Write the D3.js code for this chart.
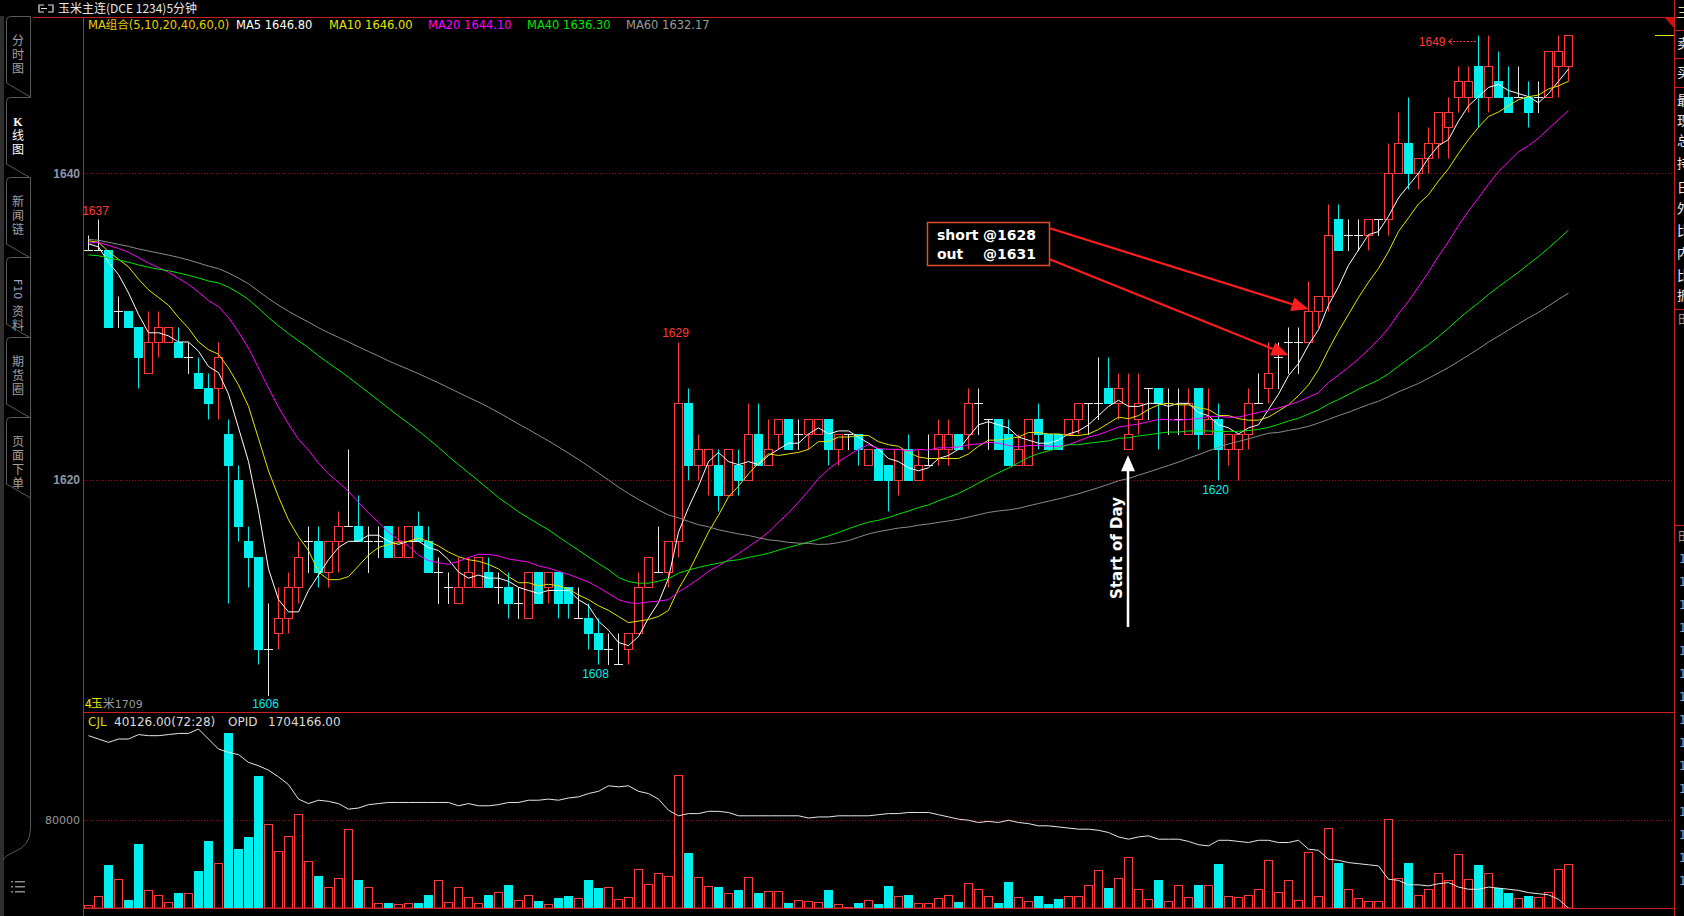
<!DOCTYPE html>
<html><head><meta charset="utf-8">
<script src="https://cdn.jsdelivr.net/npm/d3@7/dist/d3.min.js"></script>
<style>
html,body{margin:0;padding:0;background:#000;overflow:hidden}
svg{display:block}
</style>
</head><body>
<svg id="c" width="1684" height="916"></svg>
<script>
// ---------------- DATA ----------------
const opens  = [1635,1635,1635,1631,1631,1630,1627,1629,1629,1629,1628,1627,1626,1626,1623,1620,1616,1615,1609,1610,
1611,1613,1616,1616,1614,1616,1617,1617,1616,1616,1617,1615,1615,1617,1616,1614,1613,1612,1613,1613,
1614,1613,1613,1612,1611,1614,1613,1614,1613,1611,1611,1610,1609,1608,1609,1610,1613,1614,1614,1616,
1625,1621,1621,1621,1619,1621,1620,1623,1621,1623,1624,1623,1623,1623,1624,1622,1623,1623,1621,1622,
1621,1620,1622,1620,1621,1622,1622,1623,1623,1625,1624,1624,1623,1621,1621,1624,1623,1623,1623,1624,
1625,1625,1626,1625,1622,1624,1626,1626,1625,1624,1623,1626,1623,1624,1622,1622,1623,1625,1626,1628,
1629,1629,1629,1631,1632,1637,1636,1636,1636,1637,1637,1640,1642,1640,1641,1642,1643,1645,1645,1647,
1645,1646,1645,1645,1645,1645,1645,1647,1647];
const highs  = [1636,1637,1635,1632,1631,1630,1631,1631,1630,1630,1629,1628,1627,1629,1624,1621,1617,1615,1612,1613,
1614,1616,1617,1617,1616,1618,1622,1619,1617,1617,1617,1617,1617,1618,1617,1615,1614,1615,1615,1615,
1615,1614,1614,1613,1614,1614,1614,1614,1613,1613,1612,1611,1610,1610,1610,1614,1615,1617,1616,1629,
1626,1623,1622,1622,1622,1622,1625,1625,1624,1624,1624,1624,1624,1624,1624,1623,1623,1623,1622,1622,
1621,1622,1623,1622,1623,1624,1624,1623,1626,1626,1624,1624,1624,1623,1624,1625,1623,1623,1624,1625,
1625,1628,1628,1627,1627,1627,1626,1626,1626,1626,1626,1626,1626,1625,1623,1623,1626,1627,1629,1629,
1630,1630,1633,1632,1638,1638,1637,1637,1637,1637,1642,1644,1645,1641,1643,1644,1645,1647,1647,1649,
1649,1648,1647,1647,1646,1646,1648,1649,1649];
const lows   = [1635,1635,1630,1630,1630,1626,1627,1628,1629,1628,1627,1626,1624,1624,1612,1616,1613,1608,1606,1609,
1610,1612,1614,1613,1613,1614,1617,1616,1614,1615,1615,1615,1615,1616,1614,1612,1612,1612,1613,1613,
1613,1612,1611,1611,1611,1612,1612,1611,1611,1611,1609,1608,1608,1608,1608,1610,1613,1614,1613,1615,
1620,1620,1619,1618,1619,1619,1620,1621,1621,1622,1622,1622,1622,1623,1621,1621,1622,1621,1621,1620,
1618,1619,1620,1620,1621,1621,1621,1622,1622,1623,1622,1622,1621,1621,1621,1622,1622,1622,1623,1623,
1623,1624,1625,1624,1622,1623,1624,1622,1623,1623,1623,1622,1623,1620,1621,1620,1622,1625,1625,1626,
1627,1627,1629,1630,1631,1635,1635,1635,1635,1636,1636,1640,1639,1639,1640,1641,1641,1644,1644,1643,
1644,1645,1644,1645,1643,1644,1645,1645,1646];
const closes = [1635,1635,1630,1631,1630,1628,1629,1630,1630,1628,1628,1626,1625,1628,1621,1617,1615,1609,1609,1611,
1613,1615,1616,1614,1616,1617,1617,1616,1616,1616,1615,1616,1617,1616,1614,1614,1613,1613,1614,1615,
1613,1613,1612,1612,1614,1612,1614,1612,1612,1611,1610,1609,1609,1608,1610,1613,1615,1614,1616,1625,
1621,1622,1622,1619,1622,1620,1623,1621,1622,1624,1622,1623,1624,1624,1622,1623,1623,1622,1622,1620,
1620,1622,1620,1621,1621,1623,1623,1622,1625,1625,1624,1622,1621,1622,1624,1623,1622,1622,1624,1625,
1625,1625,1625,1626,1623,1625,1626,1625,1625,1624,1625,1623,1624,1622,1623,1623,1625,1625,1627,1628,
1629,1629,1631,1632,1636,1635,1636,1636,1637,1637,1640,1642,1640,1641,1642,1644,1644,1646,1646,1645,
1647,1645,1644,1645,1644,1645,1648,1648,1649];
// closes of the 59 bars before the first visible bar (needed for the moving averages)
const priorCloses = [1638,1638,1639,1638,1638,1637,1638,1638,1637,1638,1638,1637,1638,1638,1637,1637,1638,1638,1637,1637,
1637,1636,1636,1636,1635,1635,1635,1634,1634,1634,1633,1633,1633,1632,1632,1632,1632,1633,1633,1633,
1634,1634,1635,1635,1635,1636,1636,1636,1636,1636,1636,1636,1636,1635,1636,1636,1635,1635,1636];
const volumes = [2400,10600,38800,26000,7300,58200,16000,11500,5200,13600,13300,33600,60900,40600,159400,53600,64500,120000,76000,51500,
65100,85100,42400,29100,18800,27000,71500,25500,18800,4200,4500,3300,4200,4500,11800,25100,5200,19100,9700,4200,
11800,14200,20900,7000,11500,6400,3300,9100,10900,8800,25500,18200,19100,7900,9700,35100,21500,31500,29100,120900,
50000,27900,19700,19100,13300,16400,28200,13600,15200,15200,4500,7000,6700,5200,16400,3300,900,4500,7000,3600,
20000,10900,11800,4200,4200,8800,11500,5500,22400,17000,10900,4500,23600,9700,6100,10900,3600,8200,10900,10900,
20600,34200,18200,27000,46100,17000,7900,25500,6100,20600,9700,20600,20600,40000,10900,9700,11500,17000,43300,14200,
25100,7000,50600,10900,72400,40900,17000,8800,6100,6100,80600,27300,40900,11500,17000,31500,25100,48800,26100,39100,
31500,17900,13600,8800,10900,9700,14200,35100,40126];
const openInterest = [1859000,1856000,1853000,1856000,1856000,1860000,1859000,1859000,1860000,1861000,1861000,1865000,1856000,1847000,1844000,1842000,1835000,1832000,1828000,1822000,
1815000,1802000,1798000,1801000,1800000,1798000,1793000,1794000,1797000,1798000,1799000,1799000,1799000,1799000,1799000,1799000,1799000,1796000,1798000,1796000,
1796000,1797000,1799000,1799000,1801000,1801000,1802000,1801000,1803000,1804000,1807000,1809000,1814000,1813000,1814000,1809000,1807000,1802000,1792000,1787000,
1789000,1789000,1791000,1791000,1790000,1787000,1787000,1787000,1787000,1787000,1787000,1787000,1785000,1786000,1786000,1787000,1787000,1787000,1787000,1788000,
1789000,1789000,1790000,1790000,1790000,1788000,1786000,1784000,1783000,1781000,1782000,1781000,1783000,1781000,1780000,1778000,1778000,1777000,1776000,1775000,
1775000,1774000,1772000,1768000,1766000,1768000,1769000,1766000,1766000,1766000,1764000,1761000,1760000,1765000,1765000,1764000,1763000,1765000,1765000,1763000,
1763000,1765000,1757000,1756000,1748000,1747000,1745000,1744000,1743000,1742000,1730000,1729000,1725000,1725000,1724000,1726000,1727000,1723000,1721000,1721000,
1723000,1722000,1721000,1720000,1718000,1717000,1716000,1712000,1704166];

const maPeriods = [5,10,20,40,60];
const maNames = ["MA5","MA10","MA20","MA40","MA60"];
const maLegendValues = ["1646.80","1646.00","1644.10","1636.30","1632.17"];
const maColors = ["#ffffff","#e6e600","#ff00ff","#00e600","#8c8c8c"];
const priceTicks = [1620,1640];
const volumeTicks = [80000];
const dayStarts = [14,59,104];
const dayLabels = ["04/19","04/20","04/21"];
const extremeIdx = [1,18,59,51,113];
const extremeKind = ["high","low","high","low","low"];
const maxIdx = 139;
const sideTabs = ["分时图","K线图","新闻链","F10资料","期货圈","页面下单"];
const quoteRows = ["卖","买","最","现","总","持","日","外","比","内","比","振"];
const trade = [{label:"short", price:1628, idx:120},{label:"out", price:1631, idx:122}];
const startOfDayIdx = 104;

// ---------------- LAYOUT ----------------
const svg = d3.select("#c");
const L = 83, R = 1674, T = 17, MID = 712, B = 908;
const RED = "#ff3a3a", CYAN = "#00eeee", GRID = "#a00000";
const N = closes.length;

const x = d3.scaleLinear().domain([0, N-1]).range([88, 88 + 10*(N-1)]);
const y = d3.scaleLinear().domain(priceTicks).range([480, 173.3]);
const yv = d3.scaleLinear().domain([0, volumeTicks[0]]).range([B, 820]);
const yo = d3.scaleLinear().domain(d3.extent(openInterest)).range([B, 729]);
const xc = i => Math.round(x(i)) + 0.5;
const yp = p => Math.round(y(p)) + 0.5;

// background
svg.append("rect").attr("width",1684).attr("height",916).attr("fill","#000");

// ---------- frame ----------
svg.append("rect").attr("x",0).attr("y",16).attr("width",4).attr("height",900).attr("fill","#2e2e2e");
svg.append("line").attr("x1",33).attr("x2",1684).attr("y1",17.5).attr("y2",17.5).attr("stroke","#c81e1e");
svg.append("line").attr("x1",L+0.5).attr("x2",L+0.5).attr("y1",17).attr("y2",916).attr("stroke","#c81e1e");
svg.append("line").attr("x1",R+0.5).attr("x2",R+0.5).attr("y1",0).attr("y2",916).attr("stroke","#c81e1e");
svg.append("line").attr("x1",L).attr("x2",R).attr("y1",MID+0.5).attr("y2",MID+0.5).attr("stroke","#c81e1e");
svg.append("line").attr("x1",L).attr("x2",R).attr("y1",B+0.5).attr("y2",B+0.5).attr("stroke","#c81e1e");

// title
const ic = svg.append("g").attr("stroke","#e0e0e0").attr("fill","none").attr("stroke-width",1.2);
ic.append("path").attr("d","M44,5 L39,5 L39,12 L44,12 M41,8.5 L47,8.5");
ic.append("path").attr("d","M48,5 L53,5 L53,12 L48,12");
svg.append("text").attr("x",58).attr("y",13).attr("fill","#e8e8e8")
  .style("font","12px 'Noto Sans CJK SC'").text("玉米主连(DCE 1234)5分钟");

// ---------- left side tabs ----------
const tabTops = [16,97,177,257,337,417];
const tabG = svg.append("g");
tabTops.forEach((t,k)=>{
  const b = t + 67;
  tabG.append("path").attr("fill","none").attr("stroke","#5a5a5a")
    .attr("d",`M30.5,${t+0.5} L10.5,${t+0.5} Q6.5,${t+0.5} 6.5,${t+4.5} L6.5,${b} L30.5,${b+14}` + (k===1?"":` M30.5,${t+0.5} L30.5,${b+14}`));
  const label = sideTabs[k];
  const col = k===1 ? "#ffffff" : "#a0a0a0";
  let chars = label==="F10资料" ? ["F10","资","料"] : Array.from(label);
  let yy = t + 29;
  chars.forEach(ch=>{
    if (ch==="F10"){
      tabG.append("text").attr("transform",`translate(14,${yy-7}) rotate(90)`).attr("fill","#9aa6c8")
        .style("font","11px 'DejaVu Sans'").text("F10");
      yy += 30;
    } else if (ch==="K"){
      tabG.append("text").attr("x",18).attr("y",yy).attr("text-anchor","middle").attr("fill",col)
        .style("font","bold 12px 'Liberation Serif'").text("K");
      yy += 14;
    } else {
      tabG.append("text").attr("x",18).attr("y",yy).attr("text-anchor","middle").attr("fill",col)
        .style("font","12px 'Noto Sans CJK SC'").text(ch);
      yy += 14;
    }
  });
});
tabG.append("path").attr("fill","none").attr("stroke","#5a5a5a")
  .attr("d","M30.5,497 L30.5,828 Q30.5,846 14,852 Q5,856 3,860");
const menu = svg.append("g").attr("fill","#8a8a8a");
[881,886,891].forEach(v=>{ menu.append("rect").attr("x",11).attr("y",v).attr("width",2).attr("height",1.5);
  menu.append("rect").attr("x",15).attr("y",v).attr("width",10).attr("height",1.5); });

// ---------- grid and axes ----------
svg.append("g").selectAll("line").data(priceTicks).join("line")
  .attr("x1",L+1).attr("x2",R).attr("y1",d=>Math.round(y(d))+0.5).attr("y2",d=>Math.round(y(d))+0.5)
  .attr("stroke",GRID).attr("stroke-dasharray","1,2");
svg.append("g").selectAll("line").data(volumeTicks).join("line")
  .attr("x1",L+1).attr("x2",R).attr("y1",d=>Math.round(yv(d))+0.5).attr("y2",d=>Math.round(yv(d))+0.5)
  .attr("stroke",GRID).attr("stroke-dasharray","1,2");

const pAxis = svg.append("g").attr("transform",`translate(${L},0)`)
  .call(d3.axisLeft(y).tickValues(priceTicks).tickSize(0).tickPadding(3).tickFormat(d3.format("d")));
pAxis.select(".domain").remove();
pAxis.selectAll("text").attr("fill","#8c96a8").style("font","bold 12px 'Liberation Sans'");
const vAxis = svg.append("g").attr("transform",`translate(${L},0)`)
  .call(d3.axisLeft(yv).tickValues(volumeTicks).tickSize(0).tickPadding(3).tickFormat(d3.format("d")));
vAxis.select(".domain").remove();
vAxis.selectAll("text").attr("fill","#9a9a9a").style("font","11px 'DejaVu Sans'");

// clip
const defs = svg.append("defs");
defs.append("clipPath").attr("id","cp").append("rect").attr("x",L+1).attr("y",T+1).attr("width",R-L-1).attr("height",MID-T-1);
defs.append("clipPath").attr("id","cv").append("rect").attr("x",L+1).attr("y",MID+1).attr("width",R-L-1).attr("height",B-MID-1);

// ---------- candles ----------
const data = closes.map((c,i)=>({i,o:opens[i],h:highs[i],l:lows[i],c,v:volumes[i]}));
const cg = svg.append("g").attr("clip-path","url(#cp)");
data.forEach(d=>{
  const cx = xc(d.i);
  if (d.c > d.o){
    const top = yp(d.c), bot = yp(d.o);
    cg.append("line").attr("x1",cx).attr("x2",cx).attr("y1",yp(d.h)).attr("y2",top).attr("stroke",RED);
    cg.append("line").attr("x1",cx).attr("x2",cx).attr("y1",bot).attr("y2",yp(d.l)).attr("stroke",RED);
    cg.append("rect").attr("x",cx-4).attr("y",top).attr("width",8).attr("height",bot-top)
      .attr("fill","#000").attr("stroke",RED);
  } else if (d.c < d.o){
    const top = Math.round(y(d.o)), bot = Math.round(y(d.c));
    cg.append("line").attr("x1",cx).attr("x2",cx).attr("y1",yp(d.h)).attr("y2",yp(d.l)).attr("stroke",CYAN);
    cg.append("rect").attr("x",cx-4.5).attr("y",top).attr("width",9).attr("height",bot-top+1).attr("fill",CYAN);
  } else {
    cg.append("line").attr("x1",cx).attr("x2",cx).attr("y1",yp(d.h)).attr("y2",yp(d.l)+0.5).attr("stroke","#e8e8e8");
    cg.append("line").attr("x1",cx-4.5).attr("x2",cx+4.5).attr("y1",yp(d.c)).attr("y2",yp(d.c)).attr("stroke","#e8e8e8");
  }
});

// ---------- moving averages ----------
const allCloses = priorCloses.concat(closes);
const off = priorCloses.length;
maPeriods.forEach((n,k)=>{
  const series = closes.map((c,i)=>d3.mean(allCloses.slice(i+off-n+1, i+off+1)));
  cg.append("path").datum(series).attr("fill","none").attr("stroke",maColors[k]).attr("stroke-width",1)
    .attr("d", d3.line().x((v,i)=>xc(i)).y(v=>y(v)));
});

// ---------- extreme labels ----------
extremeIdx.forEach((idx,k)=>{
  const isHigh = extremeKind[k]==="high";
  const p = isHigh ? highs[idx] : lows[idx];
  svg.append("text").attr("x",xc(idx)-3).attr("y", isHigh ? y(p)-4.5 : y(p)+13.5)
    .attr("text-anchor","middle").attr("fill", isHigh ? RED : CYAN)
    .style("font","12px 'Liberation Sans'").text(p);
});
{
  const hy = Math.round(y(highs[maxIdx])) + 6.5;
  const ex = xc(maxIdx) - 2;
  svg.append("text").attr("x",ex-31).attr("y",hy+4.5).attr("text-anchor","end").attr("fill",RED)
    .style("font","12px 'Liberation Sans'").text(highs[maxIdx]);
  svg.append("line").attr("x1",ex-27).attr("x2",ex).attr("y1",hy).attr("y2",hy)
    .attr("stroke",RED).attr("stroke-dasharray","2,1.5");
  svg.append("path").attr("d",`M${ex-24},${hy-3} L${ex-28},${hy} L${ex-24},${hy+3}`).attr("fill","none").attr("stroke",RED);
}

// bottom-left contract label
svg.append("text").attr("x",85).attr("y",708).style("font","12px 'Noto Sans CJK SC'")
  .call(t=>{ t.append("tspan").attr("fill","#e6e600").text("4");
             t.append("tspan").attr("fill","#e6e600").attr("dx",-1).text("玉");
             t.append("tspan").attr("fill","#9a9a9a").text("米");
             t.append("tspan").attr("fill","#9a9a9a").style("font","11px 'DejaVu Sans'").text("1709"); });

// ---------- MA legend ----------
const lg = svg.append("g").style("font","11.5px 'DejaVu Sans'");
lg.append("text").attr("x",88).attr("y",29).attr("fill","#e6d000")
  .call(t=>{ t.append("tspan").text("MA");
             t.append("tspan").style("font","11.5px 'Noto Sans CJK SC'").text("组合");
             t.append("tspan").text("(" + maPeriods.join(",") + ",0)"); });
const legX = [236,329,428,527,626];
maNames.forEach((nm,k)=>{
  lg.append("text").attr("x",legX[k]).attr("y",29).attr("fill",maColors[k]==="#8c8c8c"?"#9a9a9a":maColors[k])
    .text(nm + " " + maLegendValues[k]);
});

// ---------- volume ----------
const vg = svg.append("g").attr("clip-path","url(#cv)");
data.forEach(d=>{
  const cx = xc(d.i);
  const top = Math.round(yv(d.v));
  if (d.c >= d.o){
    vg.append("rect").attr("x",cx-4).attr("y",top+0.5).attr("width",8).attr("height",Math.max(0,B-top-0.5))
      .attr("fill","#000").attr("stroke",RED);
  } else {
    vg.append("rect").attr("x",cx-4.5).attr("y",top).attr("width",9).attr("height",B-top).attr("fill",CYAN);
  }
});
vg.append("path").datum(openInterest).attr("fill","none").attr("stroke","#e8e8e8").attr("stroke-width",1)
  .attr("d", d3.line().x((v,i)=>xc(i)).y(v=>yo(v)));

svg.append("text").attr("y",726).style("font","12px 'DejaVu Sans'")
  .call(t=>{ t.append("tspan").attr("x",88).attr("fill","#d8d800").text("CJL");
             t.append("tspan").attr("x",114).attr("fill","#dcdcdc").text(d3.format(".2f")(volumes[N-1]) + "(72:28)");
             t.append("tspan").attr("x",228).attr("fill","#dcdcdc").text("OPID");
             t.append("tspan").attr("x",268).attr("fill","#dcdcdc").text(d3.format(".2f")(openInterest[N-1])); });
svg.append("line").attr("x1",L).attr("x2",R).attr("y1",B+0.5).attr("y2",B+0.5).attr("stroke","#c81e1e");

// date labels (partly below the window edge, as in the original)
dayStarts.forEach((idx,k)=>{
  svg.append("text").attr("x",xc(idx)+4).attr("y",924).attr("text-anchor","middle").attr("fill","#9a9a9a")
    .style("font","11px 'DejaVu Sans'").text(dayLabels[k]);
});

// ---------- annotations ----------
const RA = "#ff1e1e";
const boxX = 927, boxY = 222;
svg.append("rect").attr("x",boxX+0.5).attr("y",boxY+0.5).attr("width",122).attr("height",43)
  .attr("fill","#000").attr("stroke","#e0502a").attr("stroke-width",1.5);
trade.forEach((t,k)=>{
  const g = svg.append("text").attr("y",boxY+18+k*19).attr("fill","#fff").style("font","bold 14px 'DejaVu Sans'");
  g.append("tspan").attr("x",boxX+10).text(t.label);
  g.append("tspan").attr("x",boxX+56).text("@" + t.price);
});
const arrowStarts = [[1049,228],[1049,259]];
const arrowTargets = [trade[1], trade[0]];
arrowTargets.forEach((t,k)=>{
  const [sx,sy] = arrowStarts[k];
  const tx = xc(t.idx), ty = y(t.price) - 2;
  const ang = Math.atan2(ty-sy, tx-sx);
  const len = 17, hw = 7;
  const bx = tx - len*Math.cos(ang), by = ty - len*Math.sin(ang);
  svg.append("line").attr("x1",sx).attr("y1",sy).attr("x2",bx).attr("y2",by).attr("stroke",RA).attr("stroke-width",2.2);
  const px = -Math.sin(ang)*hw, py = Math.cos(ang)*hw;
  svg.append("path").attr("d",`M${tx},${ty} L${bx+px},${by+py} L${bx-px},${by-py} Z`).attr("fill",RA);
});
{
  const ax = xc(startOfDayIdx) - 0.5;
  const tipY = y(lows[startOfDayIdx]) + 6;
  svg.append("line").attr("x1",ax).attr("x2",ax).attr("y1",tipY+14).attr("y2",627).attr("stroke","#fff").attr("stroke-width",2.5);
  svg.append("path").attr("d",`M${ax},${tipY} L${ax-7},${tipY+16} L${ax+7},${tipY+16} Z`).attr("fill","#fff");
  svg.append("text").attr("transform",`translate(${ax-6},${548}) rotate(-90)`).attr("text-anchor","middle")
    .attr("fill","#fff").style("font","bold 15px 'DejaVu Sans'").text("Start of Day");
}

// ---------- top-right markers & right quote panel ----------
svg.append("line").attr("x1",1655).attr("x2",R).attr("y1",Math.round(y(closes[N-1]))+0.5).attr("y2",Math.round(y(closes[N-1]))+0.5).attr("stroke","#e6e600");
svg.append("path").attr("d",`M1665,18 L${R},18 L${R},28 Z`).attr("fill","#d01010");
const rp = svg.append("g");
[30,58,87,309,525].forEach(v=>rp.append("line").attr("x1",R).attr("x2",1684).attr("y1",v+0.5).attr("y2",v+0.5).attr("stroke","#c81e1e"));
rp.append("text").attr("x",1677).attr("y",17).attr("fill","#e0e0a0").style("font","13px 'Noto Sans CJK SC'").text("三");
const qy = [48,77,105,125,145,168,192,213,235,258,280,300];
quoteRows.forEach((ch,k)=>rp.append("text").attr("x",1677).attr("y",qy[k]).attr("fill","#f0f0f0")
  .style("font","13px 'Noto Sans CJK SC'").text(ch));
[324,541].forEach(v=>rp.append("text").attr("x",1678).attr("y",v).attr("fill","#9a9a9a").style("font","12px 'Noto Sans CJK SC'").text("田"));
d3.range(15).forEach(k=>rp.append("text").attr("x",1679).attr("y",563+23*k).attr("fill","#8fa8c8")
  .style("font","12px 'DejaVu Sans'").text("1"));
</script>
</body></html>
